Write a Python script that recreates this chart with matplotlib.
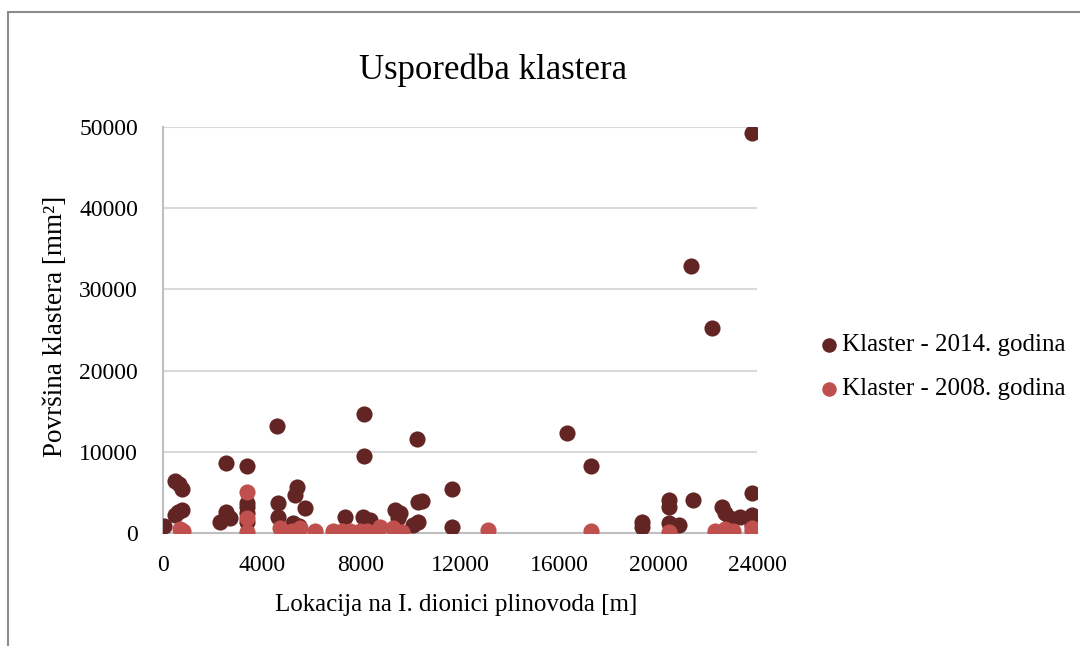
import matplotlib
matplotlib.use("Agg")
import matplotlib.pyplot as plt
from matplotlib.patches import Rectangle

plt.rcParams['font.family'] = ['Liberation Serif', 'DejaVu Serif']

# Klaster - 2014. godina
x_2014 = [40, 500, 650, 780, 480, 600, 770, 2300, 2550, 2700, 2550, 3390,
          3400, 3400, 3400, 3400, 4600, 4650, 4650, 5410, 5330, 5740, 5250,
          5500, 7350, 8080, 8360, 8120, 8120, 9370, 9575, 9500, 10100, 10300,
          10300, 10450, 10260, 11680, 11680, 16320, 17290, 19350, 19350,
          20440, 20440, 20440, 20850, 21400, 21330, 22180, 22580, 22700,
          22900, 23300, 23800, 23800, 23800, 23800]
y_2014 = [900, 6400, 6000, 5400, 2200, 2600, 2800, 1300, 2600, 1800, 8600, 8300,
          3200, 2500, 1300, 3700, 13200, 3700, 2000, 5700, 4700, 3100, 1200,
          900, 2000, 2000, 1600, 14700, 9500, 2800, 2500, 1800, 1000, 1400,
          3800, 3900, 11600, 5400, 750, 12300, 8200, 1300, 800,
          4100, 3200, 1200, 1000, 4100, 32900, 25200, 3200, 2500,
          1800, 2000, 2200, 4900, 49300, 1000]

# Klaster - 2008. godina
x_2008 = [700, 800, 3400, 3400, 3400, 4730, 5210, 5530, 6140, 6870, 7230,
          7550, 7960, 8240, 8650, 8770, 9290, 9660, 13130, 17290, 20440,
          22300, 22700, 23030, 23800, 23800]
y_2008 = [500, 200, 5000, 1800, 100, 600, 300, 600, 300, 300, 300,
          300, 300, 300, 300, 700, 600, 100, 400, 250, 100,
          200, 500, 300, 300, 600]

x_ticks = [0, 4000, 8000, 12000, 16000, 20000, 24000]
y_ticks = [0, 10000, 20000, 30000, 40000, 50000]

fig = plt.figure(figsize=(10.8, 6.46), dpi=100)
ax = fig.add_axes([0.1509, 0.1749, 0.55, 0.6285])

# outer chart border
fig.patches.append(Rectangle((8 / 1080, -0.1), 1.2, 1.1 - 12 / 646,
                             transform=fig.transFigure, fill=False,
                             edgecolor='#8c8c8c', linewidth=1.5))

ax.scatter(x_2014, y_2014, s=135, color='#632523', label='Klaster - 2014. godina',
           zorder=3, linewidths=0)
ax.scatter(x_2008, y_2008, s=135, color='#C0504D', label='Klaster - 2008. godina',
           zorder=4, linewidths=0)

ax.set_xlim(0, 24000)
ax.set_ylim(0, 50000)
ax.set_xticks(x_ticks)
ax.set_yticks(y_ticks)
ax.tick_params(length=0, labelsize=17)
ax.tick_params(axis='x', pad=16)
ax.tick_params(axis='y', pad=18)
ax.grid(axis='y', color='#d9d9d9', linewidth=1.5)
ax.set_axisbelow(True)

for side in ['top', 'right']:
    ax.spines[side].set_visible(False)
for side in ['left', 'bottom']:
    ax.spines[side].set_color('#bfbfbf')
    ax.spines[side].set_linewidth(1.5)

# titles placed like in the Excel chart
fig.text(493 / 1080, 1 - 70 / 646, 'Usporedba klastera', fontsize=25,
         ha='center', va='center')
fig.text(456 / 1080, 1 - 605 / 646, 'Lokacija na I. dionici plinovoda [m]',
         fontsize=18, ha='center', va='center')
fig.text(55 / 1080, 1 - 326 / 646, 'Površina klastera [mm²]', fontsize=19.5,
         ha='center', va='center', rotation=90)

fig.legend(loc='center left', bbox_to_anchor=(809 / 1080, 1 - 367 / 646),
           frameon=False, fontsize=18, borderpad=0, handlelength=0.6,
           handletextpad=0.2, labelspacing=0.86, markerscale=0.9)

fig.savefig('out.png', dpi=100)
